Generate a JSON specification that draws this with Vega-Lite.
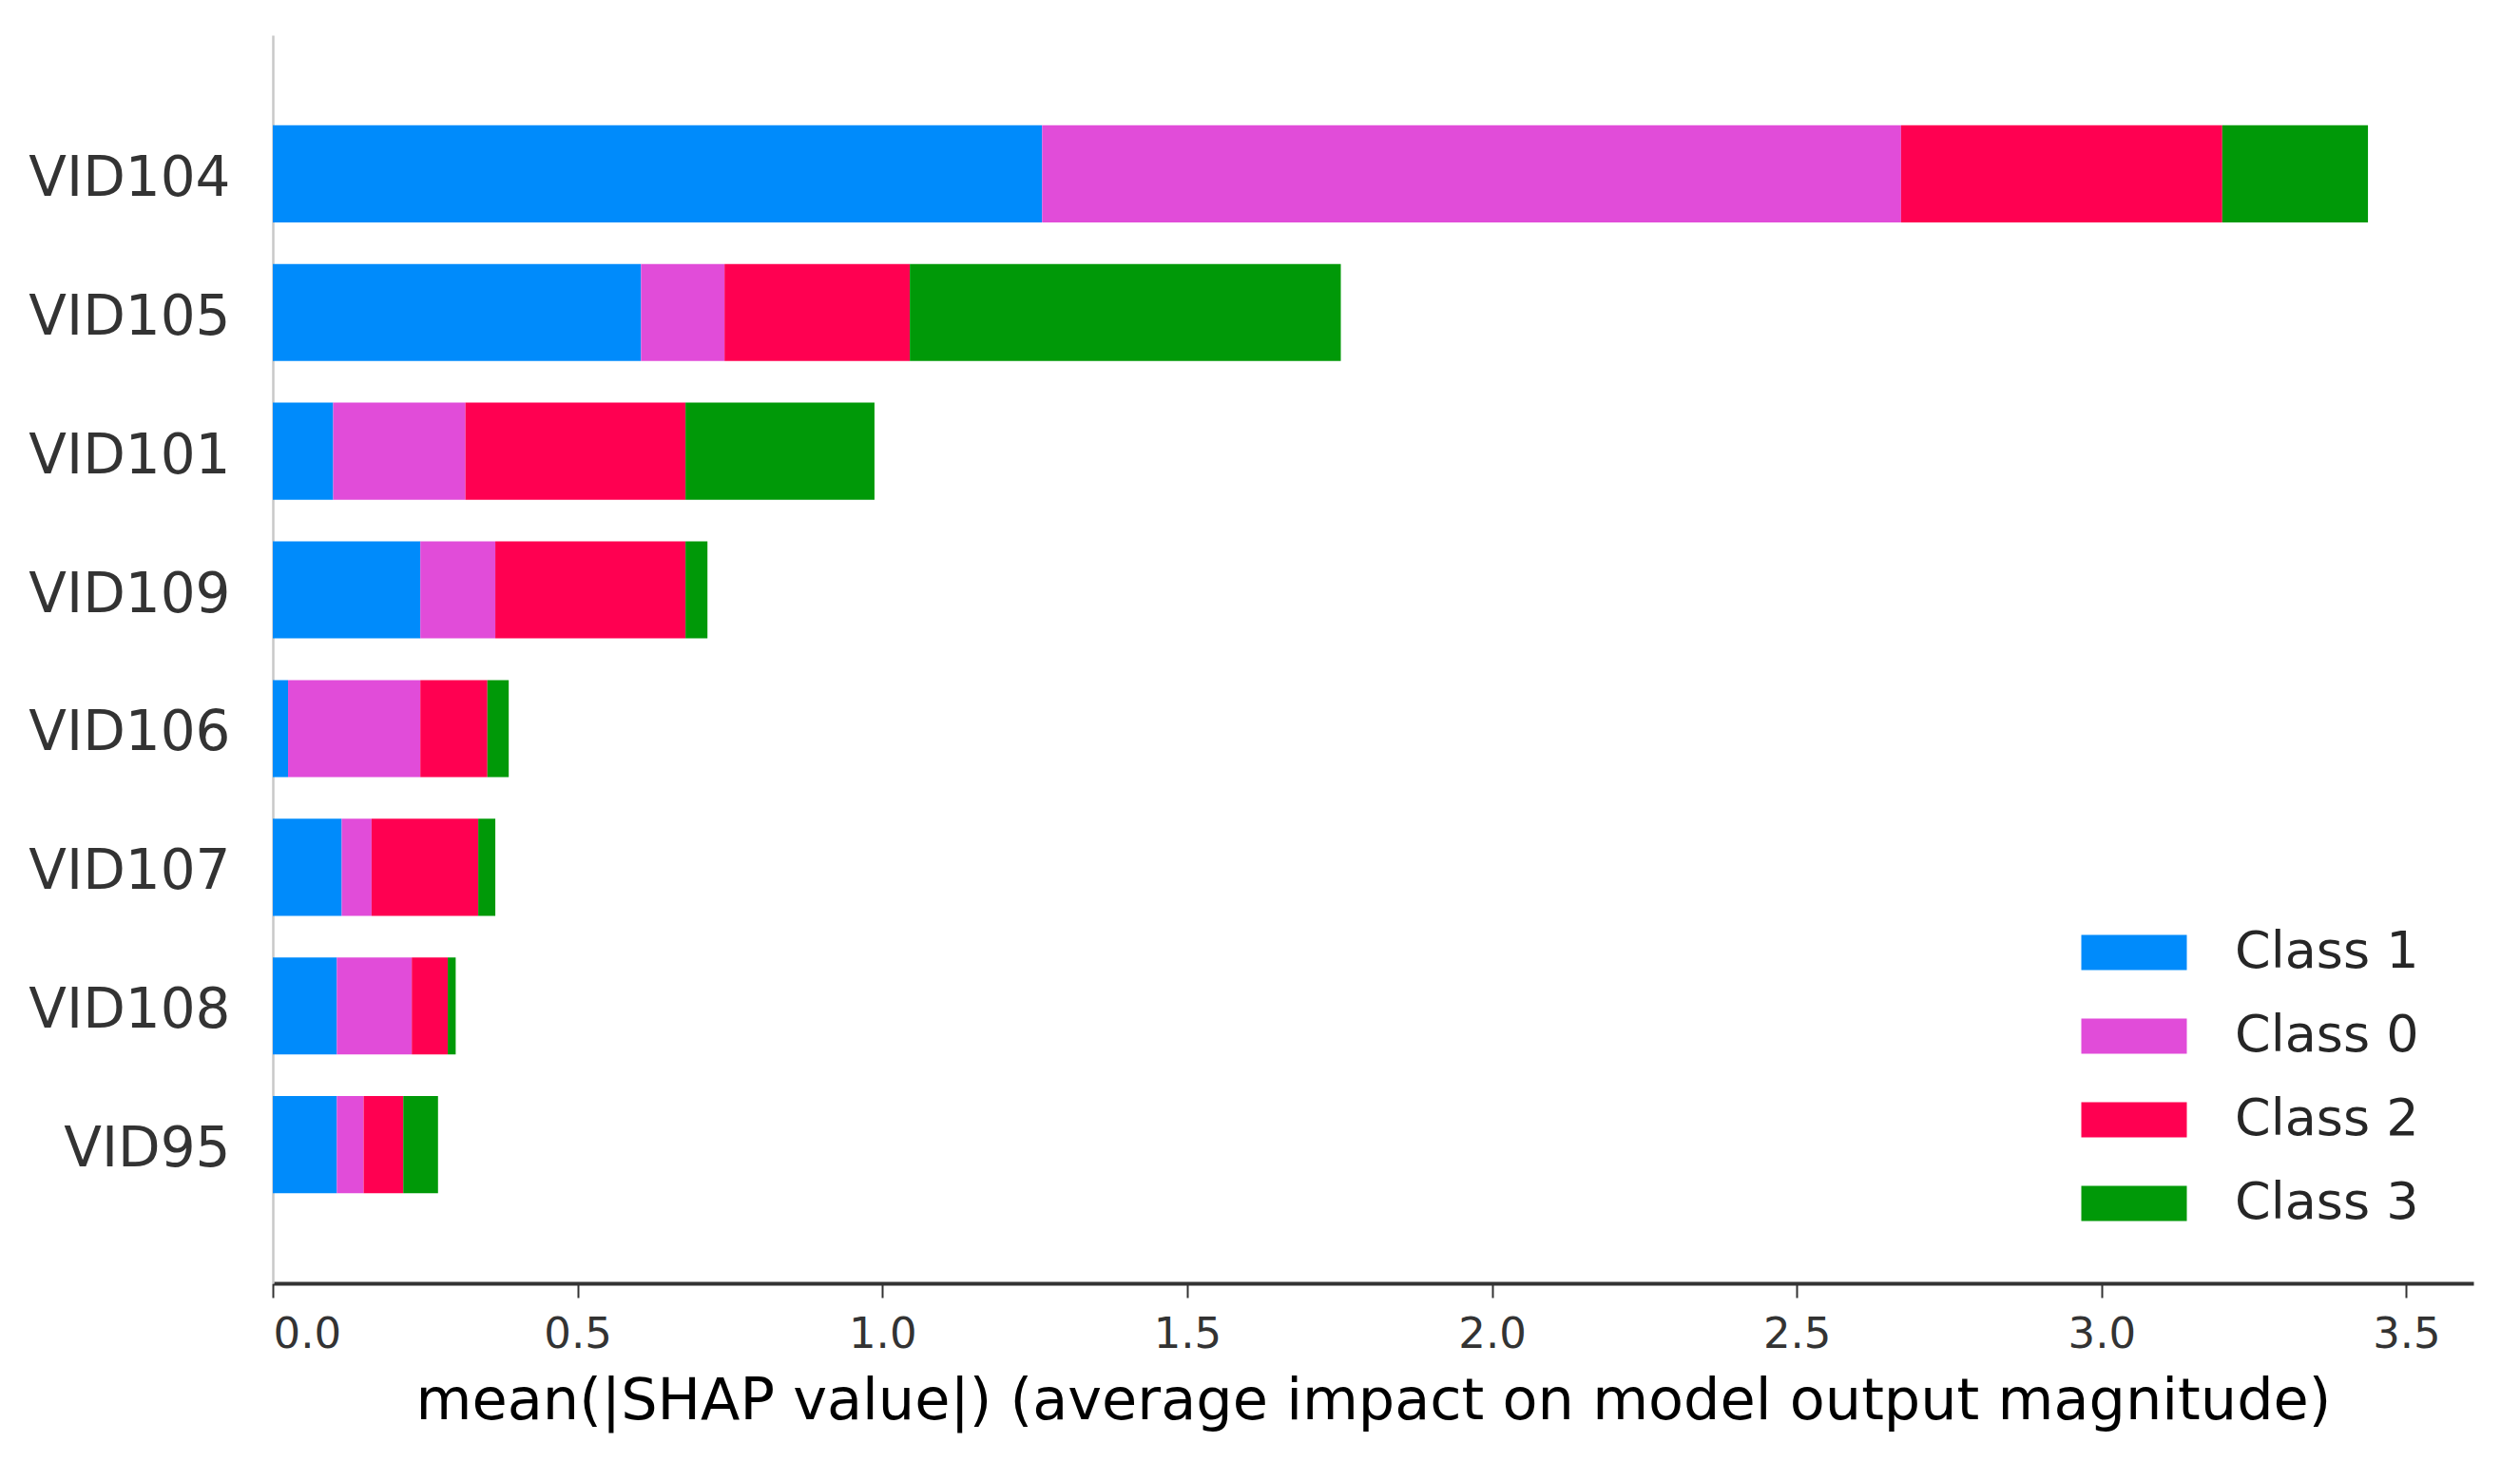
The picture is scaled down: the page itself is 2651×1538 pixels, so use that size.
{
  "$schema": "https://vega.github.io/schema/vega-lite/v6.json",
  "width": 2315,
  "height": 1313,
  "autosize": {"type": "none"},
  "padding": {"left": 287, "top": 37, "right": 49, "bottom": 188},
  "background": "white",
  "config": {
    "view": {"stroke": null},
    "font": "DejaVu Sans",
    "axis": {"grid": false, "labelFont": "DejaVu Sans", "titleFont": "DejaVu Sans"}
  },
  "data": {
    "values": [
      {"feature": "VID104", "cls": "Class 1", "ord": 1, "value": 1.262},
      {"feature": "VID104", "cls": "Class 0", "ord": 2, "value": 1.409},
      {"feature": "VID104", "cls": "Class 2", "ord": 3, "value": 0.527},
      {"feature": "VID104", "cls": "Class 3", "ord": 4, "value": 0.239},
      {"feature": "VID105", "cls": "Class 1", "ord": 1, "value": 0.604},
      {"feature": "VID105", "cls": "Class 0", "ord": 2, "value": 0.137},
      {"feature": "VID105", "cls": "Class 2", "ord": 3, "value": 0.304},
      {"feature": "VID105", "cls": "Class 3", "ord": 4, "value": 0.707},
      {"feature": "VID101", "cls": "Class 1", "ord": 1, "value": 0.099},
      {"feature": "VID101", "cls": "Class 0", "ord": 2, "value": 0.217},
      {"feature": "VID101", "cls": "Class 2", "ord": 3, "value": 0.361},
      {"feature": "VID101", "cls": "Class 3", "ord": 4, "value": 0.310},
      {"feature": "VID109", "cls": "Class 1", "ord": 1, "value": 0.242},
      {"feature": "VID109", "cls": "Class 0", "ord": 2, "value": 0.123},
      {"feature": "VID109", "cls": "Class 2", "ord": 3, "value": 0.312},
      {"feature": "VID109", "cls": "Class 3", "ord": 4, "value": 0.036},
      {"feature": "VID106", "cls": "Class 1", "ord": 1, "value": 0.025},
      {"feature": "VID106", "cls": "Class 0", "ord": 2, "value": 0.217},
      {"feature": "VID106", "cls": "Class 2", "ord": 3, "value": 0.110},
      {"feature": "VID106", "cls": "Class 3", "ord": 4, "value": 0.035},
      {"feature": "VID107", "cls": "Class 1", "ord": 1, "value": 0.113},
      {"feature": "VID107", "cls": "Class 0", "ord": 2, "value": 0.049},
      {"feature": "VID107", "cls": "Class 2", "ord": 3, "value": 0.175},
      {"feature": "VID107", "cls": "Class 3", "ord": 4, "value": 0.028},
      {"feature": "VID108", "cls": "Class 1", "ord": 1, "value": 0.105},
      {"feature": "VID108", "cls": "Class 0", "ord": 2, "value": 0.123},
      {"feature": "VID108", "cls": "Class 2", "ord": 3, "value": 0.059},
      {"feature": "VID108", "cls": "Class 3", "ord": 4, "value": 0.013},
      {"feature": "VID95", "cls": "Class 1", "ord": 1, "value": 0.105},
      {"feature": "VID95", "cls": "Class 0", "ord": 2, "value": 0.044},
      {"feature": "VID95", "cls": "Class 2", "ord": 3, "value": 0.065},
      {"feature": "VID95", "cls": "Class 3", "ord": 4, "value": 0.057}
    ]
  },
  "mark": {"type": "bar", "strokeWidth": 0},
  "encoding": {
    "y": {
      "field": "feature",
      "type": "nominal",
      "sort": ["VID104", "VID105", "VID101", "VID109", "VID106", "VID107", "VID108", "VID95"],
      "scale": {"paddingInner": 0.3, "paddingOuter": 0.65},
      "axis": {
        "title": null,
        "ticks": false,
        "domain": true,
        "domainColor": "#c8c8c8",
        "domainWidth": 2.5,
        "labelFontSize": 58,
        "labelColor": "#333333",
        "labelPadding": 45,
        "labelOffset": 6,
        "labelLimit": 600
      }
    },
    "x": {
      "field": "value",
      "type": "quantitative",
      "stack": "zero",
      "scale": {"domain": [0, 3.61], "nice": false, "zero": true},
      "axis": {
        "title": "mean(|SHAP value|) (average impact on model output magnitude)",
        "values": [0, 0.5, 1, 1.5, 2, 2.5, 3, 3.5],
        "format": ".1f",
        "domainColor": "#333333",
        "domainWidth": 4,
        "tickColor": "#333333",
        "tickWidth": 2,
        "tickSize": 15,
        "labelFontSize": 45,
        "labelColor": "#333333",
        "labelPadding": 16,
        "titleFontSize": 60.5,
        "titleFontWeight": "normal",
        "titleColor": "#000000",
        "titlePadding": 18,
        "titleLimit": 3000
      }
    },
    "color": {
      "field": "cls",
      "type": "nominal",
      "scale": {
        "domain": ["Class 1", "Class 0", "Class 2", "Class 3"],
        "range": ["#008bfb", "#e14cd9", "#ff0051", "#009908"]
      },
      "legend": {
        "title": null,
        "orient": "bottom-right",
        "offset": 57,
        "padding": 0,
        "symbolType": "M-3,-1H3V1H-3Z",
        "symbolSize": 1369,
        "symbolStrokeWidth": 0,
        "symbolOpacity": 1,
        "labelFontSize": 54,
        "labelColor": "#262626",
        "labelFont": "DejaVu Sans",
        "labelOffset": 79,
        "rowPadding": 34,
        "labelLimit": 0
      }
    },
    "order": {"field": "ord", "type": "quantitative"}
  }
}
